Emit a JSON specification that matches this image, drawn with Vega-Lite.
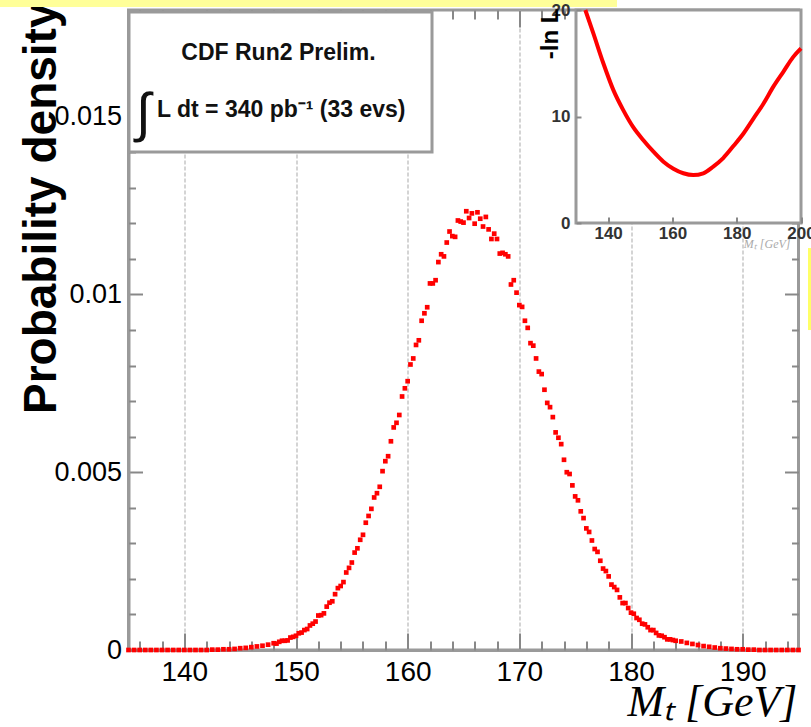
{
  "$schema": "https://vega.github.io/schema/vega-lite/v6.json",
  "width": 670,
  "height": 640,
  "autosize": {"type": "none"},
  "padding": {"left": 128.5, "top": 10, "right": 12.5, "bottom": 77},
  "background": "white",
  "config": {"view": {"stroke": "#9a9a9a", "strokeWidth": 3}},
  "layer": [
    {
      "data": {"values": [
        {"m":135,"p":0},{"m":135.5,"p":0},{"m":136,"p":0},{"m":136.5,"p":0},{"m":137,"p":0},{"m":137.5,"p":0},{"m":138,"p":0},{"m":138.5,"p":0},{"m":139,"p":0},{"m":139.5,"p":0},{"m":140,"p":0},{"m":140.5,"p":0},{"m":141,"p":0},{"m":141.5,"p":0},{"m":142,"p":0},{"m":142.5,"p":0.00001},{"m":143,"p":0.00001},{"m":143.5,"p":0.00002},{"m":144,"p":0.00002},{"m":144.5,"p":0.00003},{"m":145,"p":0.00005},{"m":145.5,"p":0.00006},{"m":146,"p":0.00008},{"m":146.5,"p":0.0001},{"m":147,"p":0.00012},{"m":147.5,"p":0.00015},
        {"m":148,"p":0.00019},{"m":148.25,"p":0.00018},{"m":148.5,"p":0.00023},{"m":148.75,"p":0.00026},{"m":149,"p":0.00026},{"m":149.25,"p":0.00027},{"m":149.5,"p":0.00035},{"m":149.75,"p":0.00037},
        {"m":150,"p":0.0004},{"m":150.25,"p":0.00047},{"m":150.5,"p":0.00049},{"m":150.75,"p":0.00056},{"m":151,"p":0.00059},{"m":151.25,"p":0.00069},{"m":151.5,"p":0.00074},{"m":151.75,"p":0.0008},
        {"m":152,"p":0.00097},{"m":152.25,"p":0.00098},{"m":152.5,"p":0.00103},{"m":152.75,"p":0.00122},{"m":153,"p":0.00133},{"m":153.25,"p":0.00137},{"m":153.5,"p":0.00157},{"m":153.75,"p":0.00174},
        {"m":154,"p":0.0018},{"m":154.25,"p":0.00191},{"m":154.5,"p":0.00218},{"m":154.75,"p":0.00231},{"m":155,"p":0.00246},{"m":155.25,"p":0.00274},{"m":155.5,"p":0.00286},{"m":155.75,"p":0.0031},
        {"m":156,"p":0.00324},{"m":156.25,"p":0.00358},{"m":156.5,"p":0.00377},{"m":156.75,"p":0.00397},{"m":157,"p":0.00429},{"m":157.25,"p":0.00441},{"m":157.5,"p":0.00459},{"m":157.75,"p":0.00503},
        {"m":158,"p":0.00531},{"m":158.25,"p":0.00545},{"m":158.5,"p":0.00587},{"m":158.75,"p":0.00626},{"m":159,"p":0.00639},{"m":159.25,"p":0.00661},{"m":159.5,"p":0.00713},{"m":159.75,"p":0.00736},
        {"m":160,"p":0.00756},{"m":160.25,"p":0.00803},{"m":160.5,"p":0.0082},{"m":160.75,"p":0.00858},{"m":161,"p":0.00871},{"m":161.25,"p":0.00926},{"m":161.5,"p":0.00947},{"m":161.75,"p":0.00964},
        {"m":162,"p":0.01031},{"m":162.25,"p":0.01031},{"m":162.5,"p":0.0104},{"m":162.75,"p":0.01091},{"m":163,"p":0.01113},{"m":163.25,"p":0.01107},{"m":163.5,"p":0.01146},{"m":163.75,"p":0.01177},
        {"m":164,"p":0.01164},{"m":164.25,"p":0.01162},{"m":164.5,"p":0.01208},{"m":164.75,"p":0.01205},{"m":165,"p":0.01202},{"m":165.25,"p":0.01234},{"m":165.5,"p":0.01215},{"m":165.75,"p":0.01228},
        {"m":166,"p":0.01199},{"m":166.25,"p":0.01231},{"m":166.5,"p":0.01213},{"m":166.75,"p":0.01191},{"m":167,"p":0.01218},{"m":167.25,"p":0.01183},{"m":167.5,"p":0.01156},{"m":167.75,"p":0.01171},
        {"m":168,"p":0.01156},{"m":168.25,"p":0.01115},{"m":168.5,"p":0.01117},{"m":168.75,"p":0.01113},{"m":169,"p":0.01107},{"m":169.25,"p":0.01028},{"m":169.5,"p":0.0104},{"m":169.75,"p":0.01005},
        {"m":170,"p":0.0097},{"m":170.25,"p":0.00965},{"m":170.5,"p":0.00926},{"m":170.75,"p":0.00906},{"m":171,"p":0.00863},{"m":171.25,"p":0.00856},{"m":171.5,"p":0.0082},{"m":171.75,"p":0.00783},
        {"m":172,"p":0.00776},{"m":172.25,"p":0.00732},{"m":172.5,"p":0.00695},{"m":172.75,"p":0.00683},{"m":173,"p":0.00655},{"m":173.25,"p":0.00612},{"m":173.5,"p":0.00597},{"m":173.75,"p":0.00579},
        {"m":174,"p":0.00535},{"m":174.25,"p":0.005},{"m":174.5,"p":0.00495},{"m":174.75,"p":0.00463},{"m":175,"p":0.00432},{"m":175.25,"p":0.00421},{"m":175.5,"p":0.0039},{"m":175.75,"p":0.00371},
        {"m":176,"p":0.00342},{"m":176.25,"p":0.00332},{"m":176.5,"p":0.00308},{"m":176.75,"p":0.00284},{"m":177,"p":0.00276},{"m":177.25,"p":0.00251},{"m":177.5,"p":0.00229},{"m":177.75,"p":0.00222},
        {"m":178,"p":0.00207},{"m":178.25,"p":0.00184},{"m":178.5,"p":0.00177},{"m":178.75,"p":0.00169},{"m":179,"p":0.00148},{"m":179.25,"p":0.00132},{"m":179.5,"p":0.00132},{"m":179.75,"p":0.00118},
        {"m":180,"p":0.00105},{"m":180.25,"p":0.00102},{"m":180.5,"p":0.0009},{"m":180.75,"p":0.00085},{"m":181,"p":0.00074},{"m":181.25,"p":0.00072},{"m":181.5,"p":0.00064},{"m":181.75,"p":0.00056},
        {"m":182,"p":0.00056},{"m":182.25,"p":0.00048},{"m":182.5,"p":0.00041},{"m":182.75,"p":0.0004},{"m":183,"p":0.00036},{"m":183.25,"p":0.0003},{"m":183.5,"p":0.0003},{"m":183.75,"p":0.00028},
        {"m":184,"p":0.00026},{"m":184.5,"p":0.00024},{"m":185,"p":0.0002},{"m":185.5,"p":0.00017},{"m":186,"p":0.00014},{"m":186.5,"p":0.00011},{"m":187,"p":0.00009},{"m":187.5,"p":0.00007},
        {"m":188,"p":0.00005},{"m":188.5,"p":0.00004},{"m":189,"p":0.00003},{"m":189.5,"p":0.00002},{"m":190,"p":0.00002},{"m":190.5,"p":0.00001},{"m":191,"p":0.00001},{"m":191.5,"p":0},
        {"m":192,"p":0},{"m":192.5,"p":0},{"m":193,"p":0},{"m":193.5,"p":0},{"m":194,"p":0},{"m":194.5,"p":0},{"m":195,"p":0}
      ]},
      "layer": [
        {
          "mark": {"type": "square", "size": 22, "color": "#ff0000", "opacity": 1, "filled": true},
          "encoding": {
            "x": {
              "field": "m", "type": "quantitative",
              "scale": {"domain": [135, 195], "nice": false, "zero": false},
              "axis": {
                "orient": "bottom",
                "values": [140, 150, 160, 170, 180, 190], "tickCount": 100,
                "format": "d",
                "labelFlush": false, "labelOverlap": false, "labelBound": false,
                "labelFont": "Liberation Sans", "labelFontSize": 28, "labelColor": "black", "labelPadding": 25,
                "domain": true, "domainColor": "#9a9a9a", "domainWidth": 3,
                "ticks": true, "tickColor": "#888888", "tickWidth": 2, "tickSize": -17,
                "grid": true, "gridColor": "#d4d4d4", "gridWidth": 2, "gridDash": [4, 2],
                "title": "Mₜ  [GeV]",
                "titleFont": "Liberation Serif", "titleFontStyle": "italic", "titleFontWeight": "normal", "titleFontSize": 44, "titleColor": "black",
                "titleAlign": "right", "titleBaseline": "alphabetic", "titleX": 668.5, "titleY": 65
              }
            },
            "y": {
              "field": "p", "type": "quantitative",
              "scale": {"domain": [0, 0.018], "nice": false, "zero": false},
              "axis": {
                "orient": "left",
                "values": [0, 0.005, 0.01, 0.015], "tickCount": 100,
                "labelExpr": "format(datum.value, '~g')",
                "labelFlush": false, "labelOverlap": false, "labelBound": false,
                "labelFont": "Liberation Sans", "labelFontSize": 27, "labelColor": "black", "labelPadding": 21,
                "domain": true, "domainColor": "#9a9a9a", "domainWidth": 3,
                "ticks": true, "tickColor": "#888888", "tickWidth": 2, "tickSize": -14,
                "grid": false,
                "title": "Probability density",
                "titleFont": "Liberation Sans", "titleFontWeight": "bold", "titleFontSize": 46, "titleColor": "black",
                "titleAngle": 270, "titleAlign": "right", "titleBaseline": "alphabetic", "titleX": -73.5, "titleY": -8
              }
            }
          }
        },
        {
          "data": {"values": [{"m": 165, "p": 0.005}]},
          "mark": {"type": "point", "opacity": 0},
          "encoding": {
            "x": {
              "field": "m", "type": "quantitative",
              "scale": {"domain": [135, 195], "nice": false, "zero": false},
              "axis": {
                "orient": "bottom",
                "values": [136,138,142,144,146,148,152,154,156,158,162,164,166,168,172,174,176,178,182,184,186,188,192,194], "tickCount": 100,
                "labels": false, "domain": false, "grid": false, "title": null,
                "ticks": true, "tickColor": "#888888", "tickWidth": 2, "tickSize": -9
              }
            },
            "y": {
              "field": "p", "type": "quantitative",
              "scale": {"domain": [0, 0.018], "nice": false, "zero": false},
              "axis": {
                "orient": "left",
                "values": [0.001,0.002,0.003,0.004,0.006,0.007,0.008,0.009,0.011,0.012,0.013,0.014,0.016,0.017], "tickCount": 100,
                "labels": false, "domain": false, "grid": false, "title": null,
                "ticks": true, "tickColor": "#888888", "tickWidth": 2, "tickSize": -7
              }
            }
          }
        },
        {
          "data": {"values": [{"m": 165, "p": 0.005}]},
          "mark": {"type": "point", "opacity": 0},
          "encoding": {
            "x": {
              "field": "m", "type": "quantitative",
              "scale": {"domain": [135, 195], "nice": false, "zero": false},
              "axis": {
                "orient": "top",
                "values": [140, 150, 160, 170, 180, 190], "tickCount": 100,
                "labels": false, "domain": false, "grid": false, "title": null,
                "ticks": true, "tickColor": "#888888", "tickWidth": 2, "tickSize": -17
              }
            },
            "y": {
              "field": "p", "type": "quantitative",
              "scale": {"domain": [0, 0.018], "nice": false, "zero": false},
              "axis": {
                "orient": "right",
                "values": [0, 0.005, 0.01, 0.015], "tickCount": 100,
                "labels": false, "domain": false, "grid": false, "title": null,
                "ticks": true, "tickColor": "#888888", "tickWidth": 2, "tickSize": -14
              }
            }
          }
        },
        {
          "data": {"values": [{"m": 165, "p": 0.005}]},
          "mark": {"type": "point", "opacity": 0},
          "encoding": {
            "x": {
              "field": "m", "type": "quantitative",
              "scale": {"domain": [135, 195], "nice": false, "zero": false},
              "axis": {
                "orient": "top",
                "values": [136,138,142,144,146,148,152,154,156,158,162,164,166,168,172,174,176,178,182,184,186,188,192,194], "tickCount": 100,
                "labels": false, "domain": false, "grid": false, "title": null,
                "ticks": true, "tickColor": "#888888", "tickWidth": 2, "tickSize": -9
              }
            },
            "y": {
              "field": "p", "type": "quantitative",
              "scale": {"domain": [0, 0.018], "nice": false, "zero": false},
              "axis": {
                "orient": "right",
                "values": [0.001,0.002,0.003,0.004,0.006,0.007,0.008,0.009,0.011,0.012,0.013,0.014,0.016,0.017], "tickCount": 100,
                "labels": false, "domain": false, "grid": false, "title": null,
                "ticks": true, "tickColor": "#888888", "tickWidth": 2, "tickSize": -7
              }
            }
          }
        },
        {
          "data": {"values": [{}]},
          "mark": {"type": "rect", "fill": "white", "stroke": "#9a9a9a", "strokeWidth": 3},
          "encoding": {
            "x": {"datum": 135.045, "type": "quantitative", "axis": null},
            "x2": {"datum": 162.18},
            "y": {"datum": 0.017944, "type": "quantitative", "axis": null},
            "y2": {"datum": 0.014006}
          }
        },
        {
          "data": {"values": [{}]},
          "mark": {"type": "text", "text": "CDF Run2 Prelim.", "font": "Liberation Sans", "fontWeight": "bold", "fontSize": 23, "color": "#111111", "align": "center", "baseline": "alphabetic"},
          "encoding": {
            "x": {"datum": 148.43, "type": "quantitative", "axis": null},
            "y": {"datum": 0.016594, "type": "quantitative", "axis": null}
          }
        },
        {
          "data": {"values": [{}]},
          "mark": {"type": "text", "text": "∫", "font": "Liberation Sans", "fontWeight": "normal", "fontSize": 54, "color": "#111111", "align": "left", "baseline": "alphabetic"},
          "encoding": {
            "x": {"datum": 135.67, "type": "quantitative", "axis": null},
            "y": {"datum": 0.014597, "type": "quantitative", "axis": null}
          }
        },
        {
          "data": {"values": [{}]},
          "mark": {"type": "text", "text": "L dt = 340 pb⁻¹ (33 evs)", "font": "Liberation Sans", "fontWeight": "bold", "fontSize": 23, "color": "#111111", "align": "left", "baseline": "alphabetic"},
          "encoding": {
            "x": {"datum": 137.55, "type": "quantitative", "axis": null},
            "y": {"datum": 0.014991, "type": "quantitative", "axis": null}
          }
        }
      ],
      "resolve": {"axis": {"x": "independent", "y": "independent"}}
    },
    {
      "data": {"values": [
        {"M":132.9,"nll":20.0},{"M":135.4,"nll":17.8},{"M":138.5,"nll":15.0},{"M":141.6,"nll":12.5},{"M":144.7,"nll":10.6},{"M":147.8,"nll":9.0},
        {"M":150.9,"nll":7.8},{"M":154.1,"nll":6.7},{"M":157.2,"nll":5.76},{"M":160.3,"nll":5.1},{"M":163.4,"nll":4.67},{"M":166.5,"nll":4.5},
        {"M":169.6,"nll":4.67},{"M":172.7,"nll":5.3},{"M":175.8,"nll":6.1},{"M":178.9,"nll":7.2},{"M":182.1,"nll":8.4},{"M":185.2,"nll":9.8},
        {"M":188.3,"nll":11.2},{"M":191.4,"nll":12.8},{"M":194.5,"nll":14.2},{"M":197.6,"nll":15.6},{"M":200.0,"nll":16.4}
      ]},
      "layer": [
        {
          "data": {"values": [{}]},
          "mark": {"type": "rect", "fill": "white", "stroke": "#9a9a9a", "strokeWidth": 3},
          "encoding": {
            "x": {"datum": 130, "type": "quantitative", "scale": {"domain": [130, 200], "range": [447.5, 672.5], "nice": false, "zero": false}},
            "x2": {"datum": 200},
            "y": {"datum": 0, "type": "quantitative", "scale": {"domain": [0, 20], "range": [213, 0], "nice": false, "zero": false}},
            "y2": {"datum": 20}
          }
        },
        {
          "mark": {"type": "line", "color": "#ff0000", "strokeWidth": 4, "interpolate": "monotone"},
          "encoding": {
            "x": {
              "field": "M", "type": "quantitative",
              "scale": {"domain": [130, 200], "range": [447.5, 672.5], "nice": false, "zero": false},
              "axis": {
                "orient": "bottom", "offset": -427, "zindex": 1,
                "values": [140, 160, 180, 200], "tickCount": 100, "format": "d",
                "labelFlush": false, "labelOverlap": false, "labelBound": false,
                "labelFont": "Liberation Sans", "labelFontSize": 17, "labelFontWeight": "bold", "labelColor": "#333333", "labelPadding": 8,
                "domain": false, "grid": false,
                "ticks": true, "tickSize": -6, "tickColor": "#888888", "tickWidth": 2,
                "title": "Mₜ [GeV]",
                "titleFont": "Liberation Serif", "titleFontStyle": "italic", "titleFontWeight": "normal", "titleFontSize": 12, "titleColor": "#aaaaaa",
                "titleAlign": "right", "titleBaseline": "alphabetic", "titleX": 661.5, "titleY": 24
              }
            },
            "y": {
              "field": "nll", "type": "quantitative",
              "scale": {"domain": [0, 20], "range": [213, 0], "nice": false, "zero": false},
              "axis": {
                "orient": "left", "offset": -447.5, "zindex": 1,
                "values": [0, 10, 20], "tickCount": 100, "format": "d",
                "labelFlush": false, "labelOverlap": false, "labelBound": false,
                "labelFont": "Liberation Sans", "labelFontSize": 17, "labelFontWeight": "bold", "labelColor": "#333333", "labelPadding": 11,
                "domain": false, "grid": false,
                "ticks": true, "tickSize": -5, "tickColor": "#888888", "tickWidth": 2,
                "title": "-ln L",
                "titleFont": "Liberation Sans", "titleFontWeight": "bold", "titleFontSize": 24, "titleColor": "black",
                "titleAngle": 270, "titleAlign": "right", "titleBaseline": "alphabetic", "titleX": -19, "titleY": -2
              }
            }
          }
        },
        {
          "data": {"values": [{}]},
          "mark": {"type": "rect", "fill": "#ffff99"},
          "encoding": {
            "x": {"datum": -49.2, "type": "quantitative"},
            "x2": {"datum": 142.76},
            "y": {"datum": 20.94, "type": "quantitative"},
            "y2": {"datum": 20.28}
          }
        },
        {
          "data": {"values": [{}]},
          "mark": {"type": "rect", "fill": "#ffff66"},
          "encoding": {
            "x": {"datum": 202.18, "type": "quantitative"},
            "x2": {"datum": 203.11},
            "y": {"datum": -2.35, "type": "quantitative"},
            "y2": {"datum": -10.05}
          }
        }
      ]
    }
  ],
  "resolve": {"scale": {"x": "independent", "y": "independent"}}
}
